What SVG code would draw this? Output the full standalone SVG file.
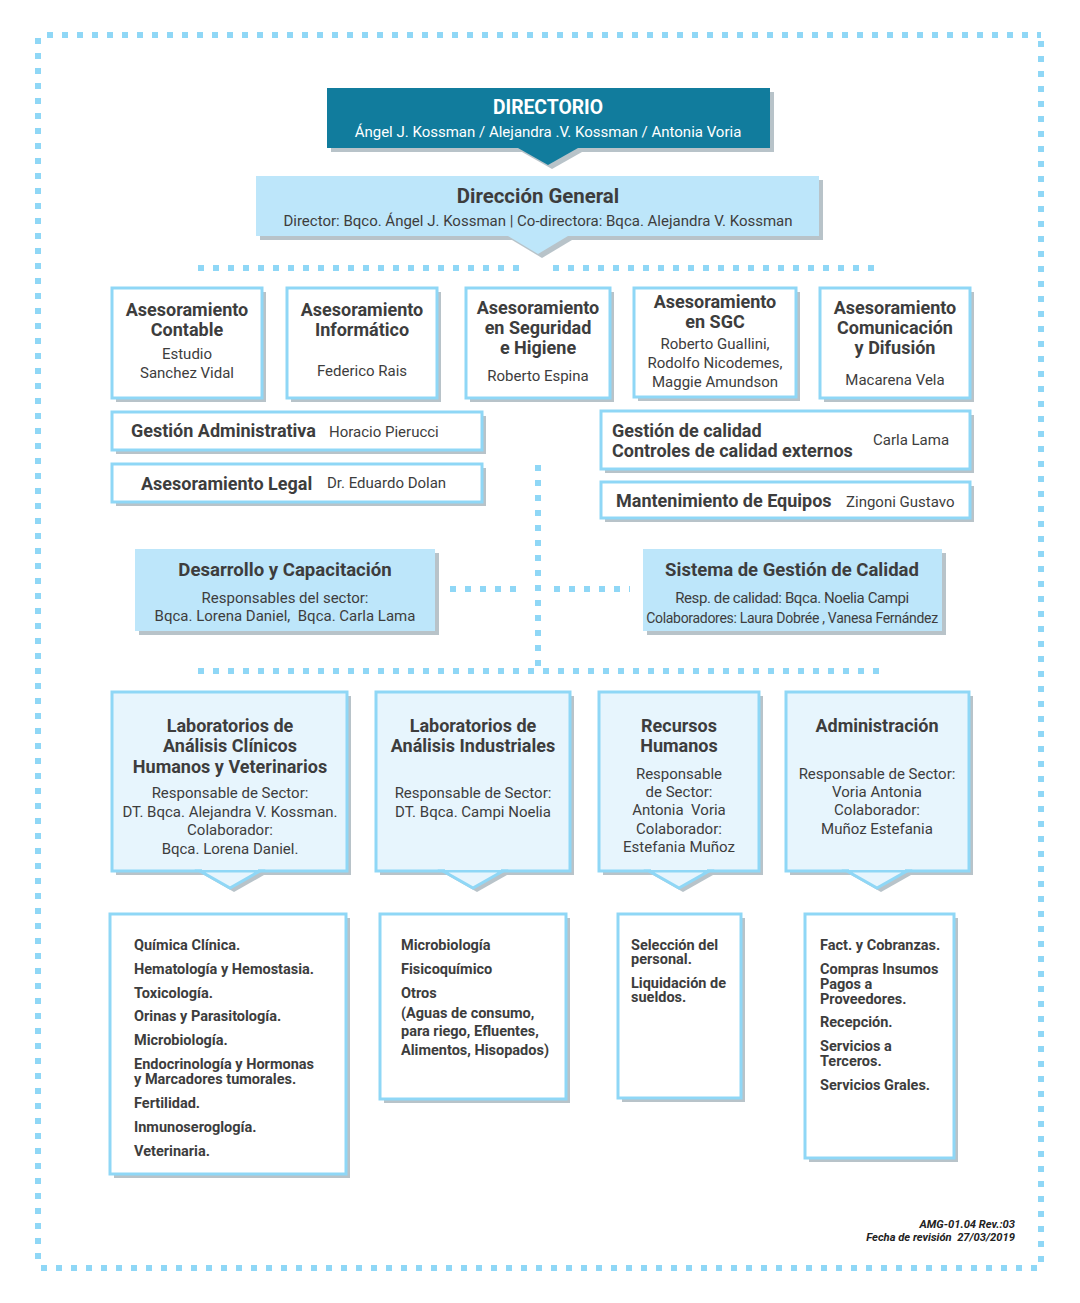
<svg xmlns="http://www.w3.org/2000/svg" width="1080" height="1303" viewBox="0 0 1080 1303">
<defs>
<style>
text{font-family:Roboto,"Open Sans","Liberation Sans",sans-serif;fill:#3d3d3d}
.c{text-anchor:middle}
.e{text-anchor:end}
.b{font-weight:700}
.h{font-size:18px;font-weight:700}
.n{font-size:15px}
.li{font-size:14.5px;font-weight:700}
.w{fill:#ffffff}
.sh{fill:#b8c3c9}
.wb{fill:#ffffff;stroke:#8fd7f6;stroke-width:3}
.lb{fill:#e7f5fd;stroke:#8fd7f6;stroke-width:3}
.dot{fill:none;stroke:#8fd7f6;stroke-width:6;stroke-dasharray:6 9}
</style>
</defs>
<rect width="1080" height="1303" fill="#ffffff"/>

<g id="connectors">
<path class="dot" d="M47 35H1041M38 38V1268M1041 41V1268M41 1268H1041"/>
<path class="dot" d="M198 268H527M553 268H883"/>
<path class="dot" d="M538 465V668"/>
<path class="dot" d="M450 589H525M554 589H630"/>
<path class="dot" d="M198 671H883"/>
</g>

<g id="directorio">
<rect class="sh" x="331" y="92" width="443" height="60"/>
<polygon class="sh" points="522,152 582,152 552,169"/>
<rect x="327" y="88" width="443" height="60" fill="#117c9d"/>
<polygon points="518,148 578,148 548,165" fill="#117c9d"/>
<text class="c b w" x="548" y="114" style="font-size:19.3px">DIRECTORIO</text>
<text class="c w n" x="548" y="137">Ángel J. Kossman / Alejandra .V. Kossman / Antonia Voria</text>
</g>

<g id="direccion-general">
<rect class="sh" x="260" y="180" width="563" height="60"/>
<polygon class="sh" points="512,240 572,240 542,258"/>
<rect x="256" y="176" width="563" height="60" fill="#bde6fa"/>
<polygon points="508,236 568,236 538,254" fill="#bde6fa"/>
<text class="c b" x="538" y="203" style="font-size:20.4px">Dirección General</text>
<text class="c n" x="538" y="226">Director: Bqco. Ángel J. Kossman | Co-directora: Bqca. Alejandra V. Kossman</text>
</g>

<g id="ases-contable">
<rect class="sh" x="116" y="292" width="150" height="110"/>
<rect class="wb" x="112" y="288" width="150" height="110"/>
<text class="c h" x="187" y="316">Asesoramiento</text>
<text class="c h" x="187" y="336">Contable</text>
<text class="c n" x="187" y="359">Estudio</text>
<text class="c n" x="187" y="378">Sanchez Vidal</text>
</g>

<g id="ases-informatico">
<rect class="sh" x="291" y="292" width="150" height="110"/>
<rect class="wb" x="287" y="288" width="150" height="110"/>
<text class="c h" x="362" y="316">Asesoramiento</text>
<text class="c h" x="362" y="336">Informático</text>
<text class="c n" x="362" y="376">Federico Rais</text>
</g>

<g id="ases-seguridad">
<rect class="sh" x="470" y="292" width="144" height="110"/>
<rect class="wb" x="466" y="288" width="144" height="110"/>
<text class="c h" x="538" y="314">Asesoramiento</text>
<text class="c h" x="538" y="334">en Seguridad</text>
<text class="c h" x="538" y="354">e Higiene</text>
<text class="c n" x="538" y="381">Roberto Espina</text>
</g>

<g id="ases-sgc">
<rect class="sh" x="638" y="292" width="162" height="109"/>
<rect class="wb" x="634" y="288" width="162" height="109"/>
<text class="c h" x="715" y="308">Asesoramiento</text>
<text class="c h" x="715" y="328">en SGC</text>
<text class="c n" x="715" y="349">Roberto Guallini,</text>
<text class="c n" x="715" y="368">Rodolfo Nicodemes,</text>
<text class="c n" x="715" y="387">Maggie Amundson</text>
</g>

<g id="ases-comunicacion">
<rect class="sh" x="824" y="292" width="150" height="110"/>
<rect class="wb" x="820" y="288" width="150" height="110"/>
<text class="c h" x="895" y="314">Asesoramiento</text>
<text class="c h" x="895" y="334">Comunicación</text>
<text class="c h" x="895" y="354">y Difusión</text>
<text class="c n" x="895" y="385">Macarena Vela</text>
</g>

<g id="gestion-administrativa">
<rect class="sh" x="116" y="416" width="370" height="38"/>
<rect class="wb" x="112" y="412" width="370" height="38"/>
<text class="h" x="131" y="437">Gestión Administrativa</text>
<text class="n" x="329" y="437">Horacio Pierucci</text>
</g>

<g id="asesoramiento-legal">
<rect class="sh" x="116" y="468" width="370" height="38"/>
<rect class="wb" x="112" y="464" width="370" height="38"/>
<text class="h" x="141" y="490">Asesoramiento Legal</text>
<text class="n" x="327" y="488">Dr. Eduardo Dolan</text>
</g>

<g id="gestion-calidad">
<rect class="sh" x="605" y="415" width="369" height="58"/>
<rect class="wb" x="601" y="411" width="369" height="58"/>
<text class="h" x="612" y="437">Gestión de calidad</text>
<text class="h" x="612" y="457">Controles de calidad externos</text>
<text class="n" x="873" y="445">Carla Lama</text>
</g>

<g id="mantenimiento">
<rect class="sh" x="605" y="486" width="369" height="36"/>
<rect class="wb" x="601" y="482" width="369" height="36"/>
<text class="h" x="616" y="507">Mantenimiento de Equipos</text>
<text class="n" x="846" y="507">Zingoni Gustavo</text>
</g>

<g id="desarrollo">
<rect class="sh" x="139" y="553" width="300" height="82"/>
<rect x="135" y="549" width="300" height="82" fill="#bde6fa"/>
<text class="c b" x="285" y="576" style="font-size:18.6px">Desarrollo y Capacitación</text>
<text class="c n" x="285" y="603">Responsables del sector:</text>
<text class="c n" x="285" y="621">Bqca. Lorena Daniel,&#160; Bqca. Carla Lama</text>
</g>

<g id="sgc">
<rect class="sh" x="647" y="553" width="299" height="82"/>
<rect x="643" y="549" width="299" height="82" fill="#bde6fa"/>
<text class="c b" x="792" y="576" style="font-size:18.5px">Sistema de Gestión de Calidad</text>
<text class="c n" x="792" y="603" style="letter-spacing:-0.4px">Resp. de calidad: Bqca. Noelia Campi</text>
<text class="c n" x="792" y="623" style="font-size:14px;letter-spacing:-0.3px">Colaboradores: Laura Dobrée , Vanesa Fernández</text>
</g>

<g id="lab-clinicos">
<rect class="sh" x="116" y="696" width="235" height="179"/>
<polygon class="sh" points="204,875 264,875 234,892"/>
<rect class="lb" x="112" y="692" width="235" height="179"/>
<polygon class="lb" points="200,871 260,871 230,888"/>
<rect x="202" y="866" width="56" height="4" fill="#e7f5fd"/>
<text class="c h" x="230" y="732">Laboratorios de</text>
<text class="c h" x="230" y="752">Análisis Clínicos</text>
<text class="c h" x="230" y="773">Humanos y Veterinarios</text>
<text class="c n" x="230" y="798">Responsable de Sector:</text>
<text class="c n" x="230" y="817">DT. Bqca. Alejandra V. Kossman.</text>
<text class="c n" x="230" y="835">Colaborador:</text>
<text class="c n" x="230" y="854">Bqca. Lorena Daniel.</text>
</g>

<g id="lab-industriales">
<rect class="sh" x="380" y="696" width="194" height="179"/>
<polygon class="sh" points="447,875 507,875 477,892"/>
<rect class="lb" x="376" y="692" width="194" height="179"/>
<polygon class="lb" points="443,871 503,871 473,888"/>
<rect x="445" y="866" width="56" height="4" fill="#e7f5fd"/>
<text class="c h" x="473" y="732">Laboratorios de</text>
<text class="c h" x="473" y="752">Análisis Industriales</text>
<text class="c n" x="473" y="798">Responsable de Sector:</text>
<text class="c n" x="473" y="817">DT. Bqca. Campi Noelia</text>
</g>

<g id="recursos-humanos">
<rect class="sh" x="603" y="696" width="160" height="179"/>
<polygon class="sh" points="653,875 713,875 683,892"/>
<rect class="lb" x="599" y="692" width="160" height="179"/>
<polygon class="lb" points="649,871 709,871 679,888"/>
<rect x="651" y="866" width="56" height="4" fill="#e7f5fd"/>
<text class="c h" x="679" y="732">Recursos</text>
<text class="c h" x="679" y="752">Humanos</text>
<text class="c n" x="679" y="779">Responsable</text>
<text class="c n" x="679" y="797">de Sector:</text>
<text class="c n" x="679" y="815">Antonia&#160; Voria</text>
<text class="c n" x="679" y="834">Colaborador:</text>
<text class="c n" x="679" y="852">Estefania Muñoz</text>
</g>

<g id="administracion">
<rect class="sh" x="790" y="696" width="183" height="179"/>
<polygon class="sh" points="851,875 911,875 881,892"/>
<rect class="lb" x="786" y="692" width="183" height="179"/>
<polygon class="lb" points="847,871 907,871 877,888"/>
<rect x="849" y="866" width="56" height="4" fill="#e7f5fd"/>
<text class="c h" x="877" y="732">Administración</text>
<text class="c n" x="877" y="779">Responsable de Sector:</text>
<text class="c n" x="877" y="797">Voria Antonia</text>
<text class="c n" x="877" y="815">Colaborador:</text>
<text class="c n" x="877" y="834">Muñoz Estefania</text>
</g>

<g id="lista-clinicos">
<rect class="sh" x="114" y="918" width="236" height="260"/>
<rect class="wb" x="110" y="914" width="236" height="260"/>
<text class="li" x="134" y="950">Química Clínica.</text>
<text class="li" x="134" y="974">Hematología y Hemostasia.</text>
<text class="li" x="134" y="998">Toxicología.</text>
<text class="li" x="134" y="1021">Orinas y Parasitología.</text>
<text class="li" x="134" y="1045">Microbiología.</text>
<text class="li" x="134" y="1069">Endocrinología y Hormonas</text>
<text class="li" x="134" y="1084">y Marcadores tumorales.</text>
<text class="li" x="134" y="1108">Fertilidad.</text>
<text class="li" x="134" y="1132">Inmunoseroglogía.</text>
<text class="li" x="134" y="1156">Veterinaria.</text>
</g>

<g id="lista-industriales">
<rect class="sh" x="384" y="918" width="186" height="185"/>
<rect class="wb" x="380" y="914" width="186" height="185"/>
<text class="li" x="401" y="950">Microbiología</text>
<text class="li" x="401" y="974">Fisicoquímico</text>
<text class="li" x="401" y="998">Otros</text>
<text class="li" x="401" y="1018">(Aguas de consumo,</text>
<text class="li" x="401" y="1036">para riego, Efluentes,</text>
<text class="li" x="401" y="1055">Alimentos, Hisopados)</text>
</g>

<g id="lista-rrhh">
<rect class="sh" x="622" y="918" width="123" height="184"/>
<rect class="wb" x="618" y="914" width="123" height="184"/>
<text class="li" x="631" y="950">Selección del</text>
<text class="li" x="631" y="964">personal.</text>
<text class="li" x="631" y="988">Liquidación de</text>
<text class="li" x="631" y="1002">sueldos.</text>
</g>

<g id="lista-administracion">
<rect class="sh" x="809" y="918" width="149" height="244"/>
<rect class="wb" x="805" y="914" width="149" height="244"/>
<text class="li" x="820" y="950">Fact. y Cobranzas.</text>
<text class="li" x="820" y="974">Compras Insumos</text>
<text class="li" x="820" y="989">Pagos a</text>
<text class="li" x="820" y="1004">Proveedores.</text>
<text class="li" x="820" y="1027">Recepción.</text>
<text class="li" x="820" y="1051">Servicios a</text>
<text class="li" x="820" y="1066">Terceros.</text>
<text class="li" x="820" y="1090">Servicios Grales.</text>
</g>

<g id="footer">
<text class="e b" x="1015" y="1228" style="font-size:11.2px;font-style:italic;fill:#222">AMG-01.04 Rev.:03</text>
<text class="e b" x="1015" y="1241" style="font-size:11.2px;font-style:italic;fill:#222">Fecha de revisión&#160; 27/03/2019</text>
</g>
</svg>
